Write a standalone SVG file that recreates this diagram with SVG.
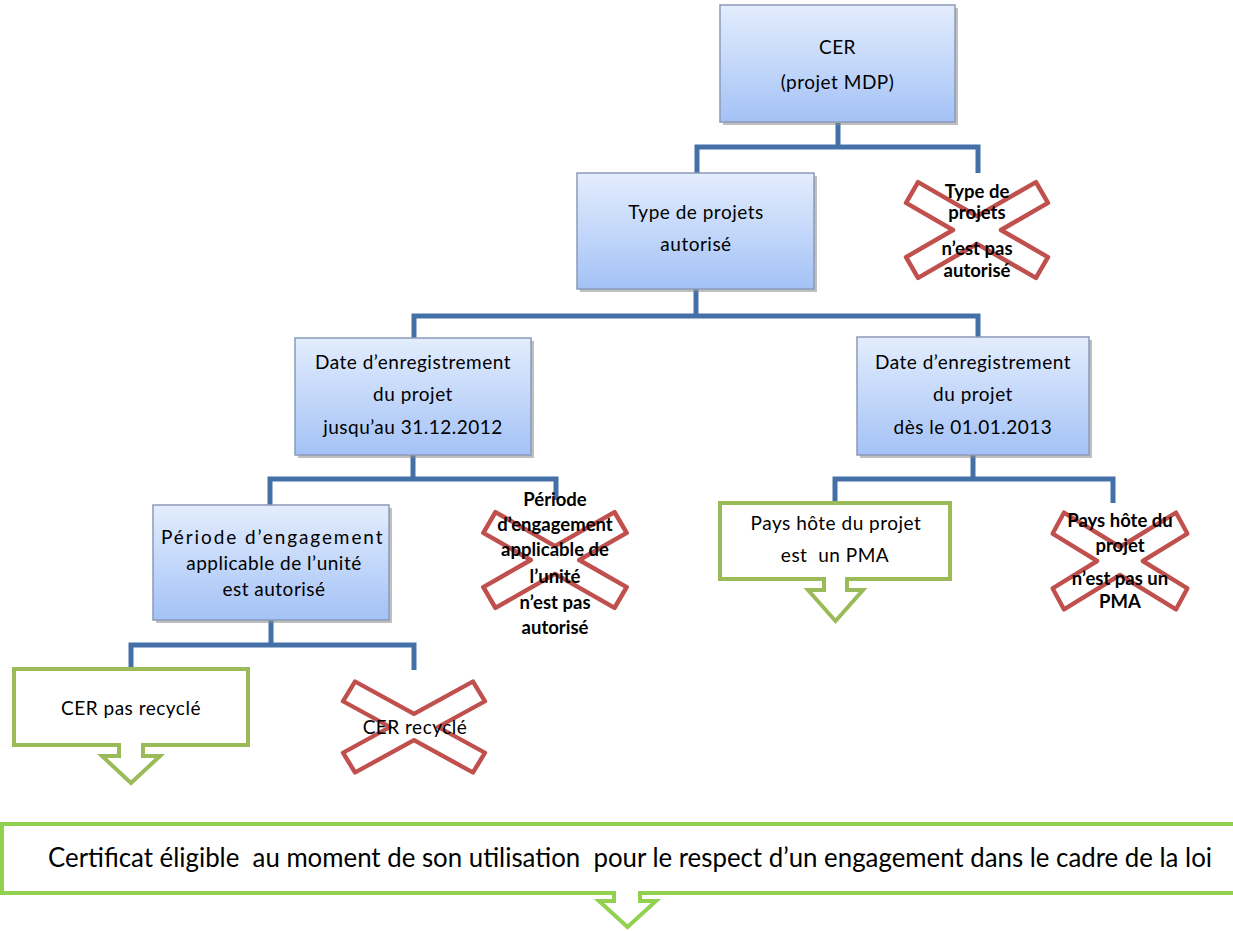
<svg xmlns="http://www.w3.org/2000/svg" xmlns:xlink="http://www.w3.org/1999/xlink" width="1233" height="931" viewBox="0 0 1233 931">
  <defs>
    <linearGradient id="blueGrad" x1="0" y1="0" x2="0" y2="1">
      <stop offset="0" stop-color="#E3EDFD"/>
      <stop offset="1" stop-color="#A4C2F6"/>
    </linearGradient>
    <polygon id="xshape" points="0,-13.86 58.95,-47.89 70.95,-27.11 24,0 70.95,27.11 58.95,47.89 0,13.86 -58.95,47.89 -70.95,27.11 -24,0 -70.95,-27.11 -58.95,-47.89"/>
  </defs>
  <style>
    .bg { fill: #FFFFFF; }
    .shadow { fill: #8A8A8A; opacity: 0.55; }
    .box { fill: url(#blueGrad); stroke: #8A9BB8; stroke-width: 1.5; }
    .conn { fill: none; stroke: #4470A8; stroke-width: 5; stroke-linejoin: miter; }
    .xs { fill: #FFFFFF; stroke: #C0504D; stroke-width: 4.5; stroke-linejoin: round; vector-effect: non-scaling-stroke; }
    .green { fill: #FFFFFF; stroke: #9BBB59; stroke-width: 4; stroke-linejoin: miter; }
    .green2 { fill: #FFFFFF; stroke: #92D050; stroke-width: 4; stroke-linejoin: miter; }
    .t { font-family: Lato, "Liberation Sans", sans-serif; font-size: 19px; letter-spacing: 0.5px; fill: #000000; text-anchor: middle; }
    .tb { font-family: Lato, "Liberation Sans", sans-serif; font-size: 18.5px; font-weight: bold; fill: #000000; text-anchor: middle; }
    .tbig { font-family: Lato, "Liberation Sans", sans-serif; font-size: 26px; fill: #000000; }
  </style>
  <rect class="bg" x="0" y="0" width="1233" height="931"/>

  <g id="connectors">
    <path class="conn" d="M697,173 V147 H978 V173 M838,123 V147"/>
    <path class="conn" d="M414,338 V316 H978 V338 M696,289 V316"/>
    <path class="conn" d="M270,505 V479 H556 V500 M413,455 V479"/>
    <path class="conn" d="M835,501 V479 H1113 V503 M973,455 V479"/>
    <path class="conn" d="M131,667 V645 H414 V670 M271,620 V645"/>
  </g>

  <g id="node-cer">
    <rect class="shadow" x="723" y="8" width="235" height="117"/>
    <rect class="box" x="720" y="5" width="235" height="117"/>
    <text class="t" x="837.5" y="54">CER</text>
    <text class="t" x="837.5" y="89">(projet MDP)</text>
  </g>

  <g id="node-type">
    <rect class="shadow" x="580" y="176" width="237" height="116"/>
    <rect class="box" x="577" y="173" width="237" height="116"/>
    <text class="t" x="696" y="219">Type de projets</text>
    <text class="t" x="696" y="251">autorisé</text>
  </g>

  <g id="node-type-no">
    <use xlink:href="#xshape" class="xs" transform="translate(977,230)"/>
    <text class="tb" x="977" y="198">Type de</text>
    <text class="tb" x="977" y="219">projets</text>
    <text class="tb" x="977" y="255">n’est pas</text>
    <text class="tb" x="977" y="277">autorisé</text>
  </g>

  <g id="node-date-left">
    <rect class="shadow" x="298" y="341" width="236" height="117"/>
    <rect class="box" x="295" y="338" width="236" height="117"/>
    <text class="t" x="413" y="369">Date d’enregistrement</text>
    <text class="t" x="413" y="401">du projet</text>
    <text class="t" x="413" y="434">jusqu’au 31.12.2012</text>
  </g>

  <g id="node-date-right">
    <rect class="shadow" x="860" y="340" width="232" height="118"/>
    <rect class="box" x="857" y="337" width="232" height="118"/>
    <text class="t" x="973" y="369">Date d’enregistrement</text>
    <text class="t" x="973" y="401">du projet</text>
    <text class="t" x="973" y="434">dès le 01.01.2013</text>
  </g>

  <g id="node-periode">
    <rect class="shadow" x="156" y="508" width="236" height="115"/>
    <rect class="box" x="153" y="505" width="236" height="115"/>
    <text class="t" x="272" y="544" textLength="222" lengthAdjust="spacing">Période d’engagement</text>
    <text class="t" x="274" y="570">applicable de l’unité</text>
    <text class="t" x="274" y="596">est autorisé</text>
  </g>

  <g id="node-periode-no">
    <use xlink:href="#xshape" class="xs" transform="translate(555,560) scale(1.01,1)"/>
    <text class="tb" x="555" y="506">Période</text>
    <text class="tb" x="555" y="531">d’engagement</text>
    <text class="tb" x="555" y="556">applicable de</text>
    <text class="tb" x="555" y="583">l’unité</text>
    <text class="tb" x="555" y="609">n’est pas</text>
    <text class="tb" x="555" y="634">autorisé</text>
  </g>

  <g id="node-pma">
    <path class="green" d="M720,503 H950 V579 H847 V590 H863 L835.5,621 L808,590 H824 V579 H720 Z"/>
    <text class="t" x="836" y="530">Pays hôte du projet</text>
    <text class="t" x="835" y="562" xml:space="preserve">est  un PMA</text>
  </g>

  <g id="node-pma-no">
    <use xlink:href="#xshape" class="xs" transform="translate(1120,561) scale(0.95,1.01)"/>
    <text class="tb" x="1120" y="527">Pays hôte du</text>
    <text class="tb" x="1120" y="552">projet</text>
    <text class="tb" x="1120" y="585">n’est pas un</text>
    <text class="tb" x="1120" y="608">PMA</text>
  </g>

  <g id="node-pas-recycle">
    <path class="green" d="M14,669 H248 V745 H143 V756 H160 L131,783 L102,756 H119 V745 H14 Z"/>
    <text class="t" x="131" y="715">CER pas recyclé</text>
  </g>

  <g id="node-recycle">
    <use xlink:href="#xshape" class="xs" transform="translate(414,727) scale(1,0.95)"/>
    <text class="t" x="415" y="734">CER recyclé</text>
  </g>

  <g id="node-certificat">
    <path class="green2" d="M2,824 H1240 V893 H640 V901 H656 L627.5,927 L599,901 H614 V893 H2 Z"/>
    <text class="tbig" x="48" y="867" textLength="1164" lengthAdjust="spacingAndGlyphs" xml:space="preserve">Certificat éligible  au moment de son utilisation  pour le respect d’un engagement dans le cadre de la loi</text>
  </g>
</svg>
